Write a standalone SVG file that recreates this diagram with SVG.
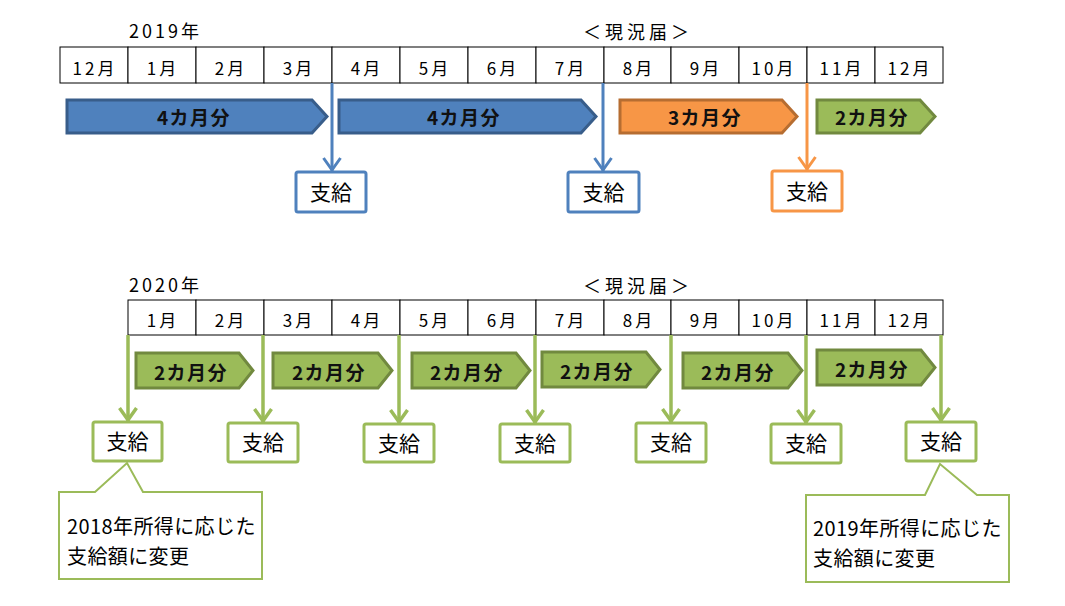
<svg xmlns="http://www.w3.org/2000/svg" width="1065" height="606" viewBox="0 0 1065 606">
<style>
text{font-family:"Noto Sans CJK JP","Noto Sans",sans-serif;fill:#000}
.title{font-size:18px;letter-spacing:3px}
.gen{font-size:18px;letter-spacing:4px}
.cell{fill:#fff;stroke:#000;stroke-width:1}
.mon{font-size:17px;letter-spacing:3px;text-anchor:middle}
.lbl{font-size:19px;font-weight:bold;letter-spacing:1.5px;text-anchor:middle;fill:#111}
.pay{font-size:21px;text-anchor:middle}
.note{font-size:20px;letter-spacing:0.4px}
.blueA{fill:#4F81BD;stroke:#385D8A;stroke-width:3}
.oranA{fill:#F79646;stroke:#B66D31;stroke-width:3}
.greenA{fill:#9BBB59;stroke:#71893F;stroke-width:3}
.box{fill:#fff;stroke-width:3}
.lb{stroke:#4F81BD;stroke-width:3;fill:none}
.lo{stroke:#F79646;stroke-width:3;fill:none}
.lg{stroke:#9BBB59;stroke-width:3.5;fill:none}
.callout{fill:#fff;stroke:#9BBB59;stroke-width:2}
</style>
<defs>
<marker id="mb" viewBox="-16 -12 18 24" refX="0" refY="0" markerWidth="18" markerHeight="24" markerUnits="userSpaceOnUse" orient="auto"><path d="M-13,-8.5 L-1,0 L-13,8.5" fill="none" stroke="#4F81BD" stroke-width="3"/></marker>
<marker id="mo" viewBox="-16 -12 18 24" refX="0" refY="0" markerWidth="18" markerHeight="24" markerUnits="userSpaceOnUse" orient="auto"><path d="M-13,-8.5 L-1,0 L-13,8.5" fill="none" stroke="#F79646" stroke-width="3"/></marker>
<marker id="mg" viewBox="-16 -12 18 24" refX="0" refY="0" markerWidth="18" markerHeight="24" markerUnits="userSpaceOnUse" orient="auto"><path d="M-13,-8.5 L-1,0 L-13,8.5" fill="none" stroke="#9BBB59" stroke-width="3.5"/></marker>
</defs>

<g id="titles">
<text class="title" x="129" y="38">2019年</text>
<text class="gen" x="583" y="39">＜現況届＞</text>
<text class="title" x="129" y="292">2020年</text>
<text class="gen" x="583" y="293">＜現況届＞</text>
</g>

<g id="table2019">
<rect class="cell" x="60" y="47" width="68" height="36"/>
<rect class="cell" x="128" y="47" width="68" height="36"/>
<rect class="cell" x="196" y="47" width="68" height="36"/>
<rect class="cell" x="264" y="47" width="68" height="36"/>
<rect class="cell" x="332" y="47" width="68" height="36"/>
<rect class="cell" x="400" y="47" width="68" height="36"/>
<rect class="cell" x="468" y="47" width="68" height="36"/>
<rect class="cell" x="536" y="47" width="68" height="36"/>
<rect class="cell" x="604" y="47" width="67" height="36"/>
<rect class="cell" x="671" y="47" width="68" height="36"/>
<rect class="cell" x="739" y="47" width="68" height="36"/>
<rect class="cell" x="807" y="47" width="68" height="36"/>
<rect class="cell" x="875" y="47" width="68" height="36"/>
<text class="mon" x="95" y="75">12月</text>
<text class="mon" x="163" y="75">1月</text>
<text class="mon" x="231" y="75">2月</text>
<text class="mon" x="299" y="75">3月</text>
<text class="mon" x="367" y="75">4月</text>
<text class="mon" x="435" y="75">5月</text>
<text class="mon" x="503" y="75">6月</text>
<text class="mon" x="571" y="75">7月</text>
<text class="mon" x="639" y="75">8月</text>
<text class="mon" x="706" y="75">9月</text>
<text class="mon" x="774" y="75">10月</text>
<text class="mon" x="842" y="75">11月</text>
<text class="mon" x="910" y="75">12月</text>
</g>

<g id="table2020">
<rect class="cell" x="128" y="300" width="68" height="35"/>
<rect class="cell" x="196" y="300" width="68" height="35"/>
<rect class="cell" x="264" y="300" width="68" height="35"/>
<rect class="cell" x="332" y="300" width="68" height="35"/>
<rect class="cell" x="400" y="300" width="68" height="35"/>
<rect class="cell" x="468" y="300" width="68" height="35"/>
<rect class="cell" x="536" y="300" width="68" height="35"/>
<rect class="cell" x="604" y="300" width="67" height="35"/>
<rect class="cell" x="671" y="300" width="68" height="35"/>
<rect class="cell" x="739" y="300" width="68" height="35"/>
<rect class="cell" x="807" y="300" width="68" height="35"/>
<rect class="cell" x="875" y="300" width="68" height="35"/>
<text class="mon" x="163" y="327">1月</text>
<text class="mon" x="231" y="327">2月</text>
<text class="mon" x="299" y="327">3月</text>
<text class="mon" x="367" y="327">4月</text>
<text class="mon" x="435" y="327">5月</text>
<text class="mon" x="503" y="327">6月</text>
<text class="mon" x="571" y="327">7月</text>
<text class="mon" x="639" y="327">8月</text>
<text class="mon" x="706" y="327">9月</text>
<text class="mon" x="774" y="327">10月</text>
<text class="mon" x="842" y="327">11月</text>
<text class="mon" x="910" y="327">12月</text>
</g>

<g id="connectors">
<line class="lb" x1="332" y1="83" x2="332" y2="171" marker-end="url(#mb)"/>
<line class="lb" x1="603" y1="83" x2="603" y2="171" marker-end="url(#mb)"/>
<line class="lo" x1="807" y1="83" x2="807" y2="170" marker-end="url(#mo)"/>
<line class="lg" x1="128" y1="335" x2="128" y2="421" marker-end="url(#mg)"/>
<line class="lg" x1="263" y1="335" x2="263" y2="422" marker-end="url(#mg)"/>
<line class="lg" x1="399" y1="335" x2="399" y2="423" marker-end="url(#mg)"/>
<line class="lg" x1="535" y1="335" x2="535" y2="423" marker-end="url(#mg)"/>
<line class="lg" x1="671" y1="335" x2="671" y2="422" marker-end="url(#mg)"/>
<line class="lg" x1="806" y1="335" x2="806" y2="423" marker-end="url(#mg)"/>
<line class="lg" x1="941" y1="335" x2="941" y2="421" marker-end="url(#mg)"/>
</g>

<g id="arrow-2019-1"><path class="blueA" d="M67,100 H312 L327,116.5 L312,133 H67 Z"/><text class="lbl" x="194" y="125">4カ月分</text></g>
<g id="arrow-2019-2"><path class="blueA" d="M339,100 H581 L596,116.5 L581,133 H339 Z"/><text class="lbl" x="464" y="125">4カ月分</text></g>
<g id="arrow-2019-3"><path class="oranA" d="M620,100 H782 L797,116.5 L782,133 H620 Z"/><text class="lbl" x="705" y="125">3カ月分</text></g>
<g id="arrow-2019-4"><path class="greenA" d="M817,100 H920 L935,116.5 L920,133 H817 Z"/><text class="lbl" x="872" y="125">2カ月分</text></g>

<g id="arrow-2020-1"><path class="greenA" d="M136,353 H239 L253,370.5 L239,388 H136 Z"/><text class="lbl" x="191" y="380">2カ月分</text></g>
<g id="arrow-2020-2"><path class="greenA" d="M273,353 H378 L392,370.5 L378,388 H273 Z"/><text class="lbl" x="329" y="380">2カ月分</text></g>
<g id="arrow-2020-3"><path class="greenA" d="M412,353 H516 L530,370.5 L516,388 H412 Z"/><text class="lbl" x="467" y="380">2カ月分</text></g>
<g id="arrow-2020-4"><path class="greenA" d="M542,352 H646 L660,369.5 L646,387 H542 Z"/><text class="lbl" x="597" y="379">2カ月分</text></g>
<g id="arrow-2020-5"><path class="greenA" d="M683,353 H788 L802,370.5 L788,388 H683 Z"/><text class="lbl" x="738" y="380">2カ月分</text></g>
<g id="arrow-2020-6"><path class="greenA" d="M817,350 H921 L935,367.5 L921,385 H817 Z"/><text class="lbl" x="872" y="377">2カ月分</text></g>

<g id="pay-2019-1"><rect class="box" x="296" y="172" width="70" height="40" rx="2" stroke="#4F81BD"/><text class="pay" x="331" y="199.5">支給</text></g>
<g id="pay-2019-2"><rect class="box" x="568" y="172" width="71" height="40" rx="2" stroke="#4F81BD"/><text class="pay" x="603.5" y="199.5">支給</text></g>
<g id="pay-2019-3"><rect class="box" x="772" y="171" width="70" height="40" rx="2" stroke="#F79646"/><text class="pay" x="807" y="198.5">支給</text></g>

<g id="pay-2020-1"><rect class="box" x="93" y="422" width="69" height="39" rx="2" stroke="#9BBB59"/><text class="pay" x="127.5" y="449">支給</text></g>
<g id="pay-2020-2"><rect class="box" x="228" y="423" width="70" height="39" rx="2" stroke="#9BBB59"/><text class="pay" x="263" y="450">支給</text></g>
<g id="pay-2020-3"><rect class="box" x="364" y="424" width="70" height="38" rx="2" stroke="#9BBB59"/><text class="pay" x="399" y="450.5">支給</text></g>
<g id="pay-2020-4"><rect class="box" x="500" y="424" width="70" height="38" rx="2" stroke="#9BBB59"/><text class="pay" x="535" y="450.5">支給</text></g>
<g id="pay-2020-5"><rect class="box" x="636" y="423" width="70" height="39" rx="2" stroke="#9BBB59"/><text class="pay" x="671" y="450">支給</text></g>
<g id="pay-2020-6"><rect class="box" x="771" y="424" width="70" height="39" rx="2" stroke="#9BBB59"/><text class="pay" x="806" y="451">支給</text></g>
<g id="pay-2020-7"><rect class="box" x="906" y="422" width="70" height="39" rx="2" stroke="#9BBB59"/><text class="pay" x="941" y="449">支給</text></g>

<g id="callout-2018">
<path class="callout" d="M59,492 H95 L127,463 L143,492 H262 V579 H59 Z"/>
<text class="note" x="67" y="534">2018年所得に応じた<tspan x="67" dy="29.5">支給額に変更</tspan></text>
</g>
<g id="callout-2019">
<path class="callout" d="M806,495 H925 L940,464 L977,495 H1009 V582 H806 Z"/>
<text class="note" x="813" y="536">2019年所得に応じた<tspan x="813" dy="29.5">支給額に変更</tspan></text>
</g>
</svg>
